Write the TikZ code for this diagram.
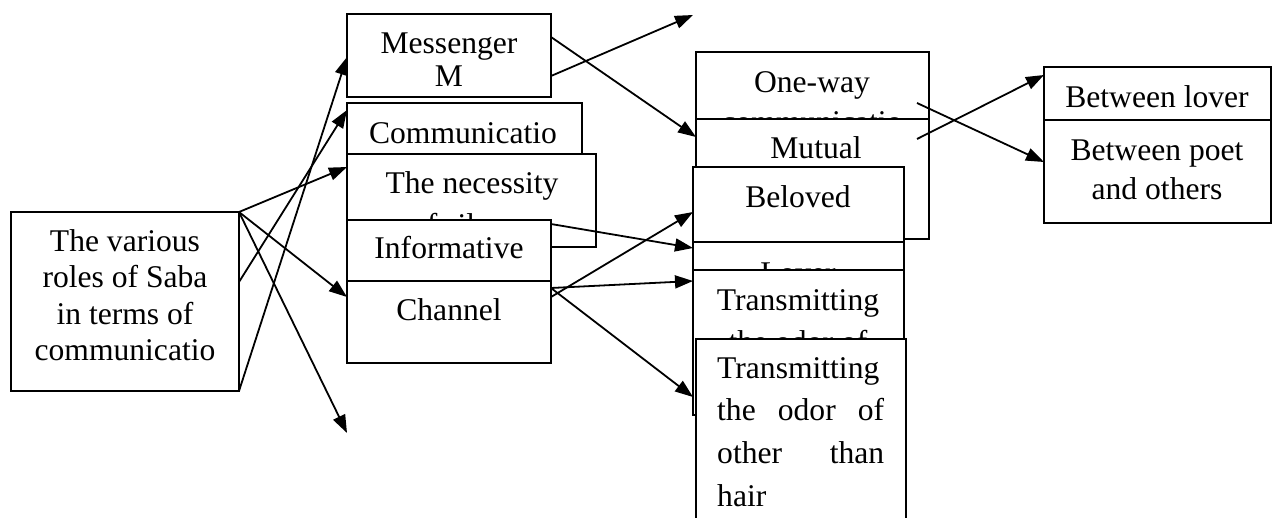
\documentclass[tikz,border=0pt]{standalone}
\usepackage{fontspec}
\setmainfont{Liberation Serif}
\usetikzlibrary{arrows.meta,calc}
% strut that fixes the height of a label's first line
\newcommand\firstline{\rule{0pt}{24pt}}

\begin{document}
\begin{tikzpicture}[x=1pt,y=-1pt,
  box/.style={draw, fill=white, line width=1.6pt, inner sep=0pt, outer sep=0pt, anchor=north west},
  lbl/.style={inner sep=0pt, anchor=north, align=center, font=\fontsize{31.6pt}{#1}\selectfont},
  lbl/.default=36pt,
  arr/.style={line width=1.8pt, -{Triangle[length=18pt,width=13pt]}}]

\useasboundingbox (0,0) rectangle (1272,517);
\clip (0,0) rectangle (1272,517);

% root box
\node[box, minimum width=228pt, minimum height=179pt] (roles) at (11,212) {};
\node[lbl=36.5pt] (roles-t) at (125,227) {\firstline The various\\roles of Saba\\in terms of\\communicatio};

% middle column
\node[box, minimum width=204pt, minimum height=83pt] (mess) at (347,14) {};
\node[lbl=33pt] (mess-t) at (449,29) {\firstline Messenger\\M};
\node[box, minimum width=235pt, minimum height=90pt] (comm) at (347,103) {};
\node[lbl] (comm-t) at (463,119) {\firstline Communicatio};
\node[box, minimum width=249pt, minimum height=93pt] (nec) at (347,154) {};
\node[lbl=42pt] (nec-t) at (472,169) {\firstline The necessity\\of silence};
\node[box, minimum width=204pt, minimum height=61pt] (info) at (347,220) {};
\node[lbl] (info-t) at (449,234) {\firstline Informative};
\node[box, minimum width=204pt, minimum height=82pt] (chan) at (347,281) {};
\node[lbl] (chan-t) at (449,296) {\firstline Channel};

% right column
\node[box, minimum width=233pt, minimum height=120pt] (oneway) at (696,52) {};
\node[lbl=40pt] (oneway-t) at (812,68) {\firstline One-way\\communicatio};
\node[box, minimum width=233pt, minimum height=120pt] (mutual) at (696,119) {};
\node[lbl] (mutual-t) at (816,134) {\firstline Mutual};
\node[box, minimum width=211pt, minimum height=75pt] (beloved) at (693,167) {};
\node[lbl] (beloved-t) at (798,183) {\firstline Beloved};
\node[box, minimum width=211pt, minimum height=60pt] (lover) at (693,242) {};
\node[lbl] (lover-t) at (798,259) {\firstline Lover};
\node[box, minimum width=211pt, minimum height=145pt] (odor) at (693,270) {};
\node[lbl=42pt] (odor-t) at (798,286) {\firstline Transmitting\\the odor of};
\node[box, minimum width=210pt, minimum height=200pt] (other) at (696,339) {};
\node[lbl=42.7pt, anchor=north west, align=left, text width=167pt] (other-t) at (717,354)
  {\firstline Transmitting\\the \hfill odor \hfill of\\other \hfill than\\hair};

% far right pair
\node[box, minimum width=227pt, minimum height=53pt] (blover) at (1044,67) {};
\node[lbl] (blover-t) at (1157,83) {\firstline Between lover};
\node[box, minimum width=227pt, minimum height=103pt] (bpoet) at (1044,120) {};
\node[lbl=39pt] (bpoet-t) at (1157,136) {\firstline Between poet\\and others};

% loose arrow ends
\coordinate (upend) at (693,15);
\coordinate (downend) at (347,433);

% connectors
\draw[arr] (roles.north east) -- ($(nec.north west)+(0,13)$);
\draw[arr] (roles.north east) -- ($(chan.north west)+(0,16)$);
\draw[arr] (roles.north east) -- (downend);
\draw[arr] ($(roles.north east)+(0,70)$) -- ($(comm.north west)+(0,7)$);
\draw[arr] (roles.south east) -- ($(mess.north west)+(0,43)$);
\draw[arr] ($(mess.north east)+(0,23)$) -- ($(mutual.north west)+(0,18)$);
\draw[arr] ($(mess.north east)+(0,62)$) -- (upend);
\draw[arr] ($(info.north east)+(0,4)$) -- ($(lover.north west)+(0,6)$);
\draw[arr] ($(chan.north east)+(0,7)$) -- ($(odor.north west)+(0,11)$);
\draw[arr] ($(chan.north east)+(0,16)$) -- ($(beloved.north west)+(0,45)$);
\draw[arr] ($(chan.north east)+(0,7)$) -- ($(odor.north west)+(0,127)$);
\draw[arr] ($(oneway.north east)+(-12,51)$) -- ($(bpoet.north west)+(0,42)$);
\draw[arr] ($(mutual.north east)+(-12,20)$) -- ($(blover.north west)+(0,8)$);
\end{tikzpicture}
\end{document}
